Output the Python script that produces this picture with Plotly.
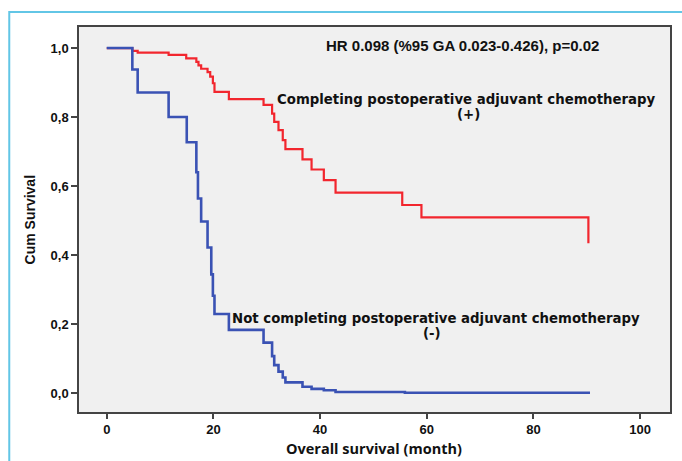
import plotly.graph_objects as go

# Kaplan-Meier steps (months, cumulative survival)
red_time = [0, 4.8, 5.8, 11.6, 14.9, 16.8, 17.2, 17.7, 18.9, 19.4, 19.9, 20.2, 22.9,
            29.4, 31.0, 31.4, 32.2, 33.0, 33.5, 36.7, 38.4, 40.7, 42.9, 55.4, 59.0, 90.3]
red_surv = [1.0, 0.992, 0.987, 0.98, 0.97, 0.96, 0.95, 0.94, 0.93, 0.917, 0.898, 0.873, 0.852,
            0.835, 0.81, 0.786, 0.762, 0.733, 0.707, 0.677, 0.648, 0.617, 0.581, 0.545, 0.509, 0.434]

blue_time = [0, 4.8, 5.8, 11.6, 15.0, 16.8, 17.1, 17.7, 18.9, 19.6, 19.9, 20.2, 22.9,
             29.4, 31.0, 31.4, 32.2, 33.0, 33.5, 36.7, 38.4, 40.7, 42.9, 55.9, 90.6]
blue_surv = [1.0, 0.938, 0.871, 0.80, 0.727, 0.64, 0.564, 0.497, 0.422, 0.344, 0.282, 0.229, 0.183,
             0.146, 0.107, 0.081, 0.062, 0.045, 0.031, 0.018, 0.012, 0.008, 0.003, 0.001, 0.001]

x_ticks = [0, 20, 40, 60, 80, 100]
y_ticks = [0.0, 0.2, 0.4, 0.6, 0.8, 1.0]
y_tick_labels = ["0,0", "0,2", "0,4", "0,6", "0,8", "1,0"]

hr_text = "HR 0.098 (%95 GA 0.023-0.426), p=0.02"
red_label = "Completing postoperative adjuvant chemotherapy"
blue_label = "Not completing postoperative adjuvant chemotherapy"

fig = go.Figure()
fig.add_trace(go.Scatter(x=red_time, y=red_surv, mode="lines", line_shape="hv",
                         line=dict(color="#f2262e", width=2.2), showlegend=False))
fig.add_trace(go.Scatter(x=blue_time, y=blue_surv, mode="lines", line_shape="hv",
                         line=dict(color="#3a52b4", width=2.6), showlegend=False))

lab_font = dict(family="DejaVu Sans", size=13.3, color="#111")
fig.add_annotation(x=66.7, y=1.006, text="<b>" + hr_text + "</b>", showarrow=False,
                   font=dict(family="Liberation Sans", size=15, color="#111"))
fig.add_annotation(x=67.4, y=0.852, text="<b>" + red_label + "</b>", showarrow=False, font=lab_font)
fig.add_annotation(x=67.9, y=0.806, text="<b>(+)</b>", showarrow=False, font=lab_font)
fig.add_annotation(x=61.7, y=0.217, text="<b>" + blue_label + "</b>", showarrow=False, font=lab_font)
fig.add_annotation(x=61.0, y=0.174, text="<b>(-)</b>", showarrow=False, font=lab_font)

fig.add_annotation(xref="paper", yref="paper", x=-0.083, y=0.5, xanchor="center", yanchor="middle",
                   text="<b>Cum Survival</b>", textangle=-90, showarrow=False,
                   font=dict(family="Liberation Sans", size=14, color="#111"))
fig.add_annotation(xref="paper", yref="paper", x=0.499, y=-0.094, xanchor="center", yanchor="middle",
                   text="<b>Overall survival (month)</b>", showarrow=False,
                   font=dict(family="Open Sans", size=14.5, color="#111"))

# outer light-blue frame
fig.add_shape(type="rect", xref="paper", yref="paper", x0=-0.118, x1=1.2, y0=-0.3, y1=1.039,
              line=dict(color="#62c6e6", width=2), layer="below")

tick_font = dict(family="Liberation Sans", size=13, color="#111", weight="bold")
fig.update_xaxes(range=[-5.2, 105.6], tickvals=x_ticks, ticks="outside", ticklen=5, tickwidth=2,
                 tickcolor="#444", showgrid=False, zeroline=False, showline=True, mirror=True,
                 linecolor="#444", linewidth=1.5, tickfont=tick_font)
fig.update_yaxes(range=[-0.055, 1.061], tickvals=y_ticks, ticktext=y_tick_labels, ticks="outside",
                 ticklen=6, tickwidth=1.5, tickcolor="#444", showgrid=False, zeroline=False,
                 showline=True, mirror=True, linecolor="#444", linewidth=1.5, tickfont=tick_font)

fig.update_layout(width=682, height=461, margin=dict(l=79, r=10, t=27, b=49),
                  plot_bgcolor="#f0f0f0", paper_bgcolor="white")

# remove the default 8px page margin so the figure fills the window exactly
fig.write_html("out.html", config={"displayModeBar": False},
               post_script="document.body.style.margin='0px';document.body.style.overflow='hidden';")
